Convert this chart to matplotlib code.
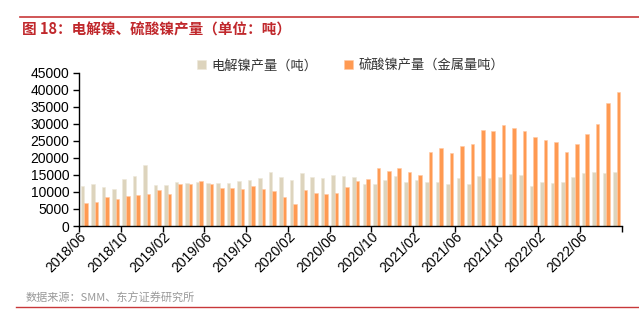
import matplotlib
matplotlib.use("Agg")
import matplotlib.pyplot as plt
import numpy as np

plt.rcParams['font.family'] = ['Liberation Sans', 'Noto Sans CJK SC', 'DejaVu Sans']

# months 2018/06 .. 2022/09
months = []
y, m = 2018, 6
for _ in range(52):
    months.append(f"{y}/{m:02d}")
    m += 1
    if m > 12:
        m = 1
        y += 1

electrolytic = [11700, 12300, 11350, 10850, 13700, 14650, 17800, 12150, 11950, 12800,
                12500, 12900, 12600, 12600, 12600, 13200, 13500, 14100, 15850, 14400,
                13400, 15550, 14400, 14100, 14950, 14600, 14300, 12250, 12250, 13600,
                14650, 12900, 13600, 12900, 12900, 12250, 14200, 12250, 14650, 14200,
                14400, 15150, 14950, 11850, 12900, 12600, 12900, 14300, 15550, 15950,
                15450, 15850]
sulfate = [6750, 7050, 8600, 8000, 8800, 9100, 9400, 10650, 9300, 12300,
           12300, 13200, 12300, 11150, 11150, 10750, 11650, 10750, 10350, 8500,
           6350, 10450, 9700, 9300, 9800, 11450, 13200, 13800, 16900, 16050,
           17000, 15950, 14950, 21600, 22800, 21450, 23600, 24150, 28200, 27900,
           29650, 28750, 27800, 26100, 25150, 24750, 21700, 24050, 27100, 30050,
           36200, 39450]
series_names = ['电解镍产量（吨）', '硫酸镍产量（金属量吨）']
yticks = list(range(0, 45001, 5000))

W, H = 639, 323
fig = plt.figure(figsize=(W / 100, H / 100), dpi=100)
ax = fig.add_axes([79 / W, 1 - 226 / H, (622 - 79) / W, (226 - 72.7) / H])

x = np.arange(len(months))
bw = 0.34
c_beige = '#DDD4BD'
c_orange = '#FF9A52'
ax.bar(x - bw / 2, electrolytic, width=bw, color=c_beige, edgecolor='#EEE8DA', linewidth=0.4,
       label=series_names[0])
ax.bar(x + bw / 2, sulfate, width=bw, color=c_orange, edgecolor='#FFC9A3', linewidth=0.4,
       label=series_names[1])

ax.set_xlim(-0.5, len(months) - 0.5)
ax.set_ylim(0, 45000)
ax.set_yticks(yticks)
ax.set_yticklabels([str(v) for v in yticks], fontsize=10)
for s in ['top', 'right']:
    ax.spines[s].set_visible(False)
ax.spines['left'].set_linewidth(1.0)
ax.spines['bottom'].set_linewidth(1.0)

# major ticks at group boundaries
ax.set_xticks(np.arange(-0.5, len(months), 4))
ax.set_xticklabels([])
ax.tick_params(axis='x', which='major', direction='out', length=4, width=1)
ax.tick_params(axis='y', direction='out', length=4, width=1, pad=3)
# labels at category centers
lab_idx = list(range(0, len(months), 4))
ax.set_xticks(lab_idx, minor=True)
ax.set_xticklabels([months[i] for i in lab_idx], minor=True, rotation=45,
                   ha='right', va='center', rotation_mode='anchor', fontsize=10)
ax.tick_params(axis='x', which='minor', length=0, pad=6)

leg = ax.legend(loc='upper center', bbox_to_anchor=(0.5, 1.165), ncol=2, frameon=False,
                prop={'family': ['Noto Sans CJK SC'], 'size': 9.5},
                handlelength=0.7, handleheight=0.7, handletextpad=0.4, columnspacing=2.0)
for t in leg.get_texts():
    t.set_color('#333333')

red = '#C8383A'
fig.add_artist(plt.Line2D([20 / W, 1.0], [1 - 16.5 / H, 1 - 16.5 / H], color=red, lw=1.2))
fig.add_artist(plt.Line2D([16 / W, 1.0], [1 - 307 / H, 1 - 307 / H], color=red, lw=1.0))
fig.text(22 / W, 1 - 30 / H, '图 18：电解镍、硫酸镍产量（单位：吨）', color='#C0282C',
         fontsize=10.5, fontweight='bold', family=['Noto Sans CJK SC'], va='center', ha='left')
fig.text(26 / W, 1 - 298 / H, '数据来源：SMM、东方证券研究所', color='#999999',
         fontsize=8, family=['Noto Sans CJK SC'], va='center', ha='left')

fig.savefig('out.png', dpi=100)
